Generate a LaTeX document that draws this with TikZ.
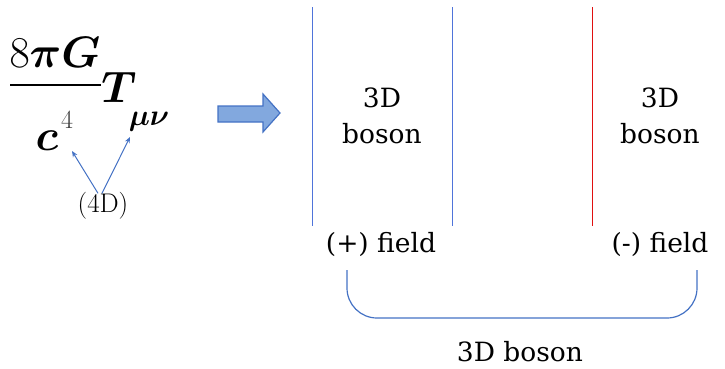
\documentclass[tikz,border=0pt]{standalone}
\usepackage{amsmath,bm}
\usepackage{fontspec}
\newfontfamily\boxfont{DejaVu Serif}
\usetikzlibrary{arrows.meta}
\definecolor{arrowblue}{HTML}{4472C4}
\definecolor{fillblue}{HTML}{82A8DE}
\definecolor{lineblue}{HTML}{4F74DA}
\definecolor{linered}{HTML}{E01010}
\begin{document}
\begin{tikzpicture}[x=1pt,y=-1pt,
  lbl/.style={font=\boxfont\fontsize{26.5}{36}\selectfont, align=center, inner sep=0pt},
  mathpart/.style={inner sep=0pt, anchor=base, font=\Huge},
  pointer/.style={arrowblue, line width=1pt, -{Stealth[length=6pt,width=5pt]}},
  divider/.style={line width=0.9pt}]
\useasboundingbox (0,0) rectangle (725,368);

% Einstein coupling term, set piece by piece
\node[mathpart, scale=1.77] (num) at (55,67) {$8\bm{\pi}\bm{G}$};
\draw[line width=1.2pt] (10,85) -- (101,85);
\node[mathpart, scale=1.77] (tee) at (119,102) {$\bm{T}$};
\node[mathpart, scale=1.77] (cee) at (47,150) {$\bm{c}$};
\node[mathpart, scale=1.05, text=black!75] (four) at (67,128) {$4$};
\node[mathpart, scale=1.2] (munu) at (149,125) {$\bm{\mu\nu}$};
\node[inner sep=1pt, font=\fontsize{27}{32}\selectfont] (fourd) at (103,206) {(4D)};
\coordinate (cTip) at (72,151);
\coordinate (muTip) at (130,137);
\draw[pointer] ([xshift=-5pt,yshift=-2pt]fourd.north) -- (cTip);
\draw[pointer] ([xshift=-1pt,yshift=-2pt]fourd.north) -- (muTip);

% block arrow
\draw[arrowblue, fill=fillblue, line width=1.2pt]
  (218,106) -- (263,106) -- (263,94) -- (280,113) -- (263,132) -- (263,122) -- (218,122) -- cycle;

% field dividers
\draw[divider, lineblue] (312,7) -- (312,226);
\draw[divider, lineblue] (452,7) -- (452,226);
\draw[divider, linered] (592,7) -- (592,226);

\node[lbl] (bosonA) at (382,116) {3D\\boson};
\node[lbl] (bosonB) at (660,116) {3D\\boson};
\node[lbl] (plus) at (381,244) {(+) field};
\node[lbl] (minus) at (660,244) {(-) field};

% bracket joining the two fields
\coordinate (brL) at (347,270);
\coordinate (brR) at (697,270);
\draw[arrowblue, line width=1.2pt, rounded corners=30pt]
  (brL) -- (347,318) -- (697,318) -- (brR);
\node[lbl] (total) at (520,352) {3D boson};
\end{tikzpicture}
\end{document}
